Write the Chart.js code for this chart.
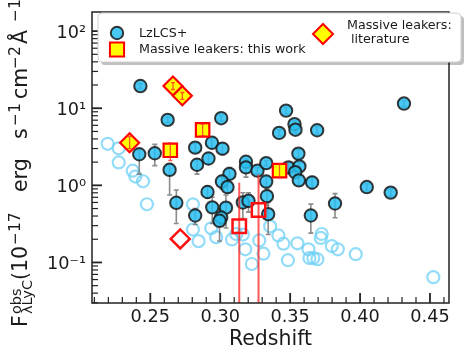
<!DOCTYPE html>
<html>
<head>
<meta charset="utf-8">
<script src="https://cdn.jsdelivr.net/npm/chart.js@4.4.1/dist/chart.umd.min.js"></script>
<style>
  html, body { margin: 0; padding: 0; background: #fff; }
</style>
</head>
<body>
<canvas id="chart" width="469" height="359"></canvas>
<script>
// LzLCS+ detections (redshift, flux, error bar low / high)
const lzDetZ = [0.2429, 0.2624, 0.3007, 0.2421, 0.2532, 0.2638, 0.2821, 0.2941, 0.3016, 0.2834,
                0.2916, 0.3184, 0.3184, 0.3266, 0.3329, 0.3066, 0.3012, 0.3052, 0.2909, 0.2686,
                0.2943, 0.3041, 0.3162, 0.3202, 0.3334, 0.3329, 0.2821, 0.3007, 0.2995, 0.3343,
                0.4314, 0.3471, 0.3531, 0.3538, 0.3421, 0.3693, 0.3559, 0.3488, 0.3566, 0.3536,
                0.3562, 0.3657, 0.4048, 0.4219, 0.3821, 0.3648];
const lzDetF = [19.4, 7.07, 7.43, 2.53, 2.61, 1.59, 3.08, 3.57, 2.99, 1.85,
                2.23, 2.02, 1.71, 1.55, 1.94, 1.41, 1.12, 0.95, 0.82, 0.594,
                0.518, 0.513, 0.60, 0.63, 0.724, 1.12, 0.406, 0.383, 0.347, 0.424,
                11.5, 9.32, 6.23, 5.27, 4.79, 5.18, 2.58, 1.71, 1.76, 1.48,
                1.16, 1.09, 0.95, 0.805, 0.582, 0.406];
const lzDetLo = [18.0, 6.5, 6.8, 1.4, 1.8, 0.75, 2.7, 3.0, 2.5, 1.4,
                 1.9, 1.85, 1.28, 1.4, 1.8, 1.2, 0.9, 0.8, 0.68, 0.32,
                 0.32, 0.28, 0.37, 0.45, 0.55, 0.95, 0.31, 0.3, 0.19, 0.23,
                 10.5, 8.5, 5.7, 4.8, 4.4, 4.6, 2.3, 1.5, 1.55, 1.3,
                 1.0, 0.9, 0.85, 0.72, 0.38, 0.24];
const lzDetHi = [20.8, 7.7, 8.1, 2.9, 3.4, 1.9, 3.5, 4.1, 3.5, 2.2,
                 2.6, 2.2, 2.1, 1.7, 2.1, 1.7, 1.35, 1.1, 0.98, 0.87,
                 0.7, 0.75, 0.8, 0.8, 0.9, 1.3, 0.5, 0.47, 0.5, 0.6,
                 12.5, 10.2, 6.8, 5.8, 5.2, 5.8, 2.9, 1.95, 2.0, 1.7,
                 1.35, 1.3, 1.05, 0.9, 0.78, 0.57];

// LzLCS+ non-detections
const lzLimZ = [0.2195, 0.2274, 0.2274, 0.2374, 0.2393, 0.2448, 0.2476, 0.2805, 0.2805, 0.2845,
                0.2936, 0.2971, 0.3084, 0.3114, 0.3162, 0.3179, 0.3226, 0.3279, 0.3309, 0.3357,
                0.3416, 0.3452, 0.3484, 0.3552, 0.3631, 0.3638, 0.3666, 0.3695, 0.3726, 0.3719,
                0.3798, 0.3841, 0.3969, 0.4524];
const lzLimF = [3.46, 3.02, 1.98, 1.55, 1.30, 1.13, 0.569, 0.566, 0.267, 0.189,
                0.277, 0.213, 0.199, 0.234, 0.230, 0.148, 0.0955, 0.193, 0.130, 0.294,
                0.224, 0.175, 0.107, 0.177, 0.148, 0.114, 0.114, 0.110, 0.234, 0.208,
                0.163, 0.148, 0.128, 0.0644];

// Massive leakers: this work
const mlWorkZ = [0.2874, 0.2643, 0.3424];
const mlWorkF = [5.23, 2.85, 1.55];
const mlWorkLo = [4.4, 2.1, 1.25];
const mlWorkHi = [6.2, 3.56, 1.9];
const mlWorkWeakZ = [0.3136, 0.3274];
const mlWorkWeakF = [0.294, 0.48];
const mlWorkWeakLo = [0.001, 0.001];
const mlWorkWeakHi = [1.08, 1.38];

// Massive leakers: literature
const mlLitZ = [0.2662, 0.2729, 0.2352];
const mlLitF = [19.4, 14.5, 3.57];
const mlLitLo = [17.5, 13.0, 3.0];
const mlLitHi = [21.5, 16.0, 4.3];
const mlLitWeakZ = [0.2714];
const mlLitWeakF = [0.202];

// axes
const xRange = [0.2083, 0.4636];
const yRange = [0.0298, 177];
const xTicks = [0.25, 0.30, 0.35, 0.40, 0.45];
const xTickLabels = ['0.25', '0.30', '0.35', '0.40', '0.45'];
const yTicks = [0.1, 1, 10, 100];
const yTickLabels = ['10⁻¹', '10⁰', '10¹', '10²'];
const legendLabels = ['LzLCS+', 'Massive leakers: this work', 'Massive leakers:', ' literature'];

const FONT = '"DejaVu Sans", "Liberation Sans", sans-serif';
const BLUE = 'rgba(40,190,240,0.85)';
const EDGE = 'rgba(25,25,25,0.85)';
const PALE = 'rgba(110,208,245,0.75)';

const xMinor = [];
for (let k = 21; k <= 46; k++) if (k % 5) xMinor.push(k / 100);
const yMinor = [];
for (let e = -2; e <= 2; e++) {
    for (let m = 2; m <= 9; m++) {
        const v = m * Math.pow(10, e);
        if (v > yRange[0] && v < yRange[1]) yMinor.push(v);
    }
}

const toPts = (xs, ys) => xs.map((v, i) => ({x: v, y: ys[i]}));

function drawErrors(chart, index, onTop) {
    const ds = chart.data.datasets[index];
    if (!ds.errLo || !!ds.errOnTop !== onTop) return;
    const {ctx, chartArea: a, scales: {x, y}} = chart;
    ctx.save();
    ctx.beginPath();
    ctx.rect(a.left, a.top, a.width, a.height);
    ctx.clip();
    ctx.strokeStyle = ds.errColor;
    ctx.lineWidth = ds.errWidth;
    ds.data.forEach((p, k) => {
        const px = x.getPixelForValue(p.x);
        const y0 = y.getPixelForValue(ds.errLo[k]);
        const y1 = y.getPixelForValue(ds.errHi[k]);
        ctx.beginPath();
        ctx.moveTo(px, y0);
        ctx.lineTo(px, y1);
        if (ds.capW) {
            ctx.moveTo(px - ds.capW / 2, y0); ctx.lineTo(px + ds.capW / 2, y0);
            ctx.moveTo(px - ds.capW / 2, y1); ctx.lineTo(px + ds.capW / 2, y1);
        }
        ctx.stroke();
    });
    ctx.restore();
}

const errorBars = {
    id: 'errorBars',
    beforeDatasetDraw(chart, args) { drawErrors(chart, args.index, false); },
    afterDatasetDraw(chart, args) { drawErrors(chart, args.index, true); }
};

const axesFrame = {
    id: 'axesFrame',
    afterDatasetsDraw(chart) {
        const {ctx, chartArea: a, scales: {x, y}} = chart;
        ctx.save();
        ctx.strokeStyle = '#222';
        const tick = (x0, y0, x1, y1, w) => {
            ctx.lineWidth = w;
            ctx.beginPath(); ctx.moveTo(x0, y0); ctx.lineTo(x1, y1); ctx.stroke();
        };
        xMinor.forEach(v => { const p = x.getPixelForValue(v); tick(p, a.bottom, p, a.bottom - 6, 1.2); });
        xTicks.forEach(v => { const p = x.getPixelForValue(v); tick(p, a.bottom, p, a.bottom - 10, 1.8); });
        yMinor.forEach(v => { const p = y.getPixelForValue(v); tick(a.left, p, a.left + 6, p, 1.2); });
        yTicks.forEach(v => { const p = y.getPixelForValue(v); tick(a.left, p, a.left + 10, p, 1.8); });
        ctx.lineWidth = 1.5;
        ctx.strokeRect(a.left, a.top, a.width, a.height);
        ctx.restore();
    }
};

const labels = {
    id: 'labels',
    afterDraw(chart) {
        const {ctx, chartArea: a} = chart;
        const P = Chart.helpers.drawPoint;
        ctx.save();

        // x title
        ctx.fillStyle = '#1a1a1a';
        ctx.font = '20.5px ' + FONT;
        ctx.textAlign = 'center';
        ctx.textBaseline = 'middle';
        ctx.fillText('Redshift', (a.left + a.right) / 2, 340);

        // y title, rotated, with super/subscripts
        const parts = [
            {t: 'F', d: 0, s: 20.5, dy: 0},
            {t: 'obs', d: 13, s: 14.5, dy: -6},
            {t: 'λLyC', d: 13, s: 14.5, dy: 5},
            {t: '(', d: 47, s: 20.5, dy: 0},
            {t: '10', d: 55, s: 20.5, dy: 0},
            {t: '−17', d: 82, s: 15.5, dy: -7.5},
            {t: 'erg', d: 135, s: 20.5, dy: 0},
            {t: 's', d: 188, s: 20.5, dy: 0},
            {t: '−1', d: 201, s: 15.5, dy: -7.5},
            {t: 'cm', d: 228, s: 20.5, dy: 0},
            {t: '−2', d: 258, s: 15.5, dy: -7.5},
            {t: 'Å', d: 283, s: 20.5, dy: 0},
            {t: '−1', d: 305, s: 15.5, dy: -7.5},
            {t: ')', d: 328, s: 20.5, dy: 0}
        ];
        ctx.save();
        ctx.translate(27, 327);
        ctx.rotate(-Math.PI / 2);
        ctx.textAlign = 'left';
        ctx.textBaseline = 'alphabetic';
        parts.forEach(p => {
            ctx.font = p.s + 'px ' + FONT;
            ctx.fillText(p.t, p.d, p.dy);
        });
        ctx.restore();

        // legend frame with shadow
        const bx = 98, by = 13, bw = 363, bh = 49;
        ctx.fillStyle = 'rgba(0,0,0,0.25)';
        ctx.beginPath(); ctx.roundRect(bx + 3, by + 3, bw, bh, 4); ctx.fill();
        ctx.fillStyle = '#fff';
        ctx.strokeStyle = '#d0d0d0';
        ctx.lineWidth = 1;
        ctx.beginPath(); ctx.roundRect(bx, by, bw, bh, 4); ctx.fill(); ctx.stroke();

        // legend markers
        ctx.fillStyle = BLUE; ctx.strokeStyle = EDGE; ctx.lineWidth = 2;
        P(ctx, {pointStyle: 'circle', radius: 6.2, rotation: 0, borderWidth: 2}, 117, 33);
        ctx.fillStyle = '#ffff00'; ctx.strokeStyle = '#ff0000'; ctx.lineWidth = 2;
        P(ctx, {pointStyle: 'rect', radius: 10, rotation: 0, borderWidth: 2}, 117, 49.5);
        P(ctx, {pointStyle: 'rectRot', radius: 10, rotation: 0, borderWidth: 2}, 323, 34);

        // legend text
        ctx.fillStyle = '#1a1a1a';
        ctx.font = '12.7px ' + FONT;
        ctx.textAlign = 'left';
        ctx.textBaseline = 'middle';
        ctx.fillText(legendLabels[0], 139, 33.5);
        ctx.fillText(legendLabels[1], 139, 49.5);
        ctx.fillText(legendLabels[2], 347, 25.5);
        ctx.fillText(legendLabels[3], 347, 40);
        ctx.restore();
    }
};

const datasets = [
    {
        label: 'LzLCS+ non-detections', data: toPts(lzLimZ, lzLimF), order: 6,
        pointStyle: 'circle', pointRadius: 6, pointBorderWidth: 2.2,
        pointBackgroundColor: 'rgba(0,0,0,0)', pointBorderColor: PALE
    },
    {
        label: 'LzLCS+', data: toPts(lzDetZ, lzDetF), order: 5,
        errLo: lzDetLo, errHi: lzDetHi, errColor: 'rgba(120,120,120,0.85)', errWidth: 1.6, capW: 5,
        pointStyle: 'circle', pointRadius: 6.2, pointBorderWidth: 2,
        pointBackgroundColor: BLUE, pointBorderColor: EDGE
    },
    {
        label: 'Massive leakers: this work (weak)', data: toPts(mlWorkWeakZ, mlWorkWeakF), order: 4,
        errLo: mlWorkWeakLo, errHi: mlWorkWeakHi, errColor: 'rgba(255,30,30,0.75)', errWidth: 2, capW: 0,
        pointStyle: 'rect', pointRadius: 9.5, pointBorderWidth: 2.5,
        pointBackgroundColor: 'rgba(0,0,0,0)', pointBorderColor: '#ff1010'
    },
    {
        label: 'Massive leakers: this work', data: toPts(mlWorkZ, mlWorkF), order: 3,
        errLo: mlWorkLo, errHi: mlWorkHi, errOnTop: true, errColor: 'rgba(255,40,40,0.8)', errWidth: 1.3, capW: 4,
        pointStyle: 'rect', pointRadius: 9.5, pointBorderWidth: 2.2,
        pointBackgroundColor: '#ffff00', pointBorderColor: '#ff0000'
    },
    {
        label: 'Massive leakers: literature (weak)', data: toPts(mlLitWeakZ, mlLitWeakF), order: 2,
        pointStyle: 'rectRot', pointRadius: 9.5, pointBorderWidth: 2.5,
        pointBackgroundColor: 'rgba(0,0,0,0)', pointBorderColor: '#ff1010'
    },
    {
        label: 'Massive leakers: literature', data: toPts(mlLitZ, mlLitF), order: 1,
        errLo: mlLitLo, errHi: mlLitHi, errOnTop: true, errColor: 'rgba(255,40,40,0.8)', errWidth: 1.3, capW: 4,
        pointStyle: 'rectRot', pointRadius: 9.5, pointBorderWidth: 2.2,
        pointBackgroundColor: '#ffff00', pointBorderColor: '#ff0000'
    }
];

new Chart(document.getElementById('chart'), {
    type: 'scatter',
    data: {datasets},
    options: {
        responsive: false,
        animation: false,
        devicePixelRatio: 1,
        events: [],
        layout: {padding: {top: 7, right: 20, left: 0, bottom: 0}},
        plugins: {legend: {display: false}, tooltip: {enabled: false}},
        scales: {
            x: {
                type: 'linear', min: xRange[0], max: xRange[1],
                grid: {display: false, drawTicks: false},
                border: {display: false},
                afterBuildTicks: s => { s.ticks = xTicks.map(v => ({value: v})); },
                afterFit: s => { s.height = 56; s.paddingLeft = 0; s.paddingRight = 0; },
                ticks: {
                    autoSkip: false, maxRotation: 0, padding: 4, color: '#1a1a1a',
                    font: {family: FONT, size: 17.7},
                    callback: (v, i) => xTickLabels[i]
                }
            },
            y: {
                type: 'logarithmic', min: yRange[0], max: yRange[1],
                grid: {display: false, drawTicks: false},
                border: {display: false},
                afterBuildTicks: s => { s.ticks = yTicks.map(v => ({value: v})); },
                afterFit: s => { s.width = 92; s.paddingTop = 0; s.paddingBottom = 0; },
                ticks: {
                    autoSkip: false, padding: 6, labelOffset: 2, color: '#1a1a1a',
                    font: {family: FONT, size: 17.7},
                    callback: (v, i) => yTickLabels[i]
                }
            }
        }
    },
    plugins: [errorBars, axesFrame, labels]
});
</script>
</body>
</html>
